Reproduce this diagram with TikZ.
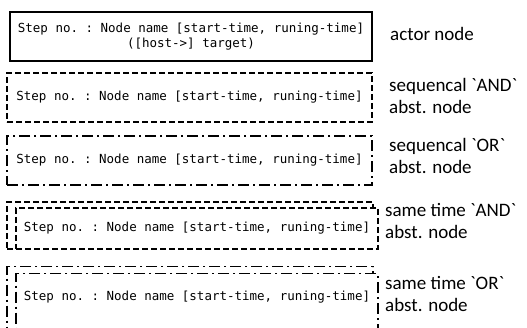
\documentclass[tikz,border=0pt]{standalone}
\usepackage{fontspec}
\setmainfont{Carlito}
\setmonofont{DejaVu Sans Mono}
\usetikzlibrary{positioning}
\tikzset{
  nodebox/.style={draw, line width=1.2pt, inner sep=0pt,
    font=\ttfamily\fontsize{12.5}{14.5}\selectfont, minimum height=49pt},
  actorbox/.style={nodebox, line width=1.4pt, align=center},
  andbox/.style={nodebox, dash pattern=on 6pt off 3pt},
  orbox/.style={nodebox, dash pattern=on 11pt off 4pt on 2pt off 4pt},
  desc/.style={inner sep=0pt, anchor=west, align=left,
    font=\fontsize{19}{22}\selectfont}
}
\newcommand{\steptext}{Step no. : Node name [start-time, runing-time]}
\newcommand{\bq}{\textasciigrave}

\begin{document}
\begin{tikzpicture}[x=1pt,y=-1pt]
        \clip (0,0) rectangle (527,328);
        % actor node
        \node[actorbox, minimum width=362pt] (actor) at (191,36.5) {\steptext\\([host->] target)};
        \node[desc] (actorlbl) at (390,34) {actor node};
        % sequencal abst. nodes
        \node[andbox, minimum width=365pt] (seqand) at (189.5,97.5) {\steptext};
        \node[desc] (seqandlbl) at (389,96) {sequencal \bq AND\bq\\abst. node};
        \node[orbox, minimum width=365pt] (seqor) at (189.5,160.5) {\steptext};
        \node[desc] (seqorlbl) at (389,156) {sequencal \bq OR\bq\\abst. node};
        % same time abst. nodes
        \node[andbox, minimum width=366pt, minimum height=47pt] (simandback) at (190,225.5) {};
        \node[andbox, fill=white, minimum width=362pt, minimum height=41pt] (simand) at (197,228.5) {\steptext};
        \node[desc] (simandlbl) at (385,221) {same time \bq AND\bq\\abst. node};
        \node[orbox, anchor=north, minimum width=366pt, minimum height=90pt] (simorback) at (190,266) {};
        \node[orbox, fill=white, anchor=north, minimum width=362pt, minimum height=0pt,
          text height=27pt, text depth=50pt] (simor) at (197,273) {\steptext};
        \node[desc] (simorlbl) at (385,294) {same time \bq OR\bq\\abst. node};
      \end{tikzpicture}
\end{document}
